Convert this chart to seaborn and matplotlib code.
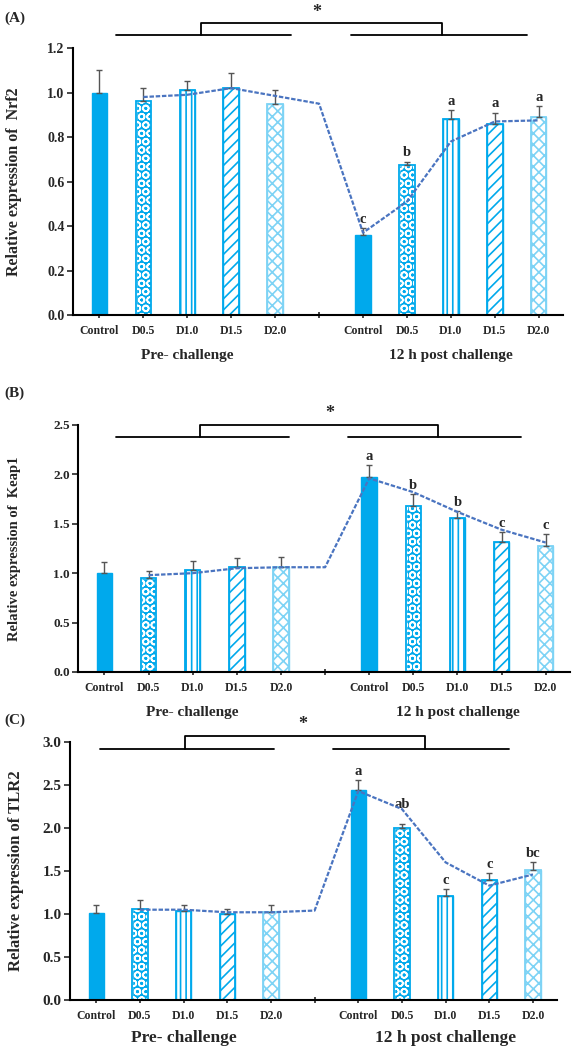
"""Relative expression of Nrf2, Keap1 and TLR2 before and after challenge."""

import matplotlib

matplotlib.use("Agg")
import matplotlib.pyplot as plt  # noqa: E402
import numpy as np  # noqa: E402
import pandas as pd  # noqa: E402
import seaborn as sns  # noqa: E402

# ---- data ----
tick_labels = ["Control", "D0.5", "D1.0", "D1.5", "D2.0", "",
               "Control", "D0.5", "D1.0", "D1.5", "D2.0"]
treatments = ["Control", "D0.5", "D1.0", "D1.5", "D2.0"]
group_labels = ["Pre- challenge", "12 h post challenge"]

nrf2_mean = [1.00, 0.96, 1.01, 1.02, 0.95, 0.36, 0.675, 0.88, 0.86, 0.89]
nrf2_err = [0.10, 0.06, 0.04, 0.07, 0.06, 0.03, 0.015, 0.04, 0.05, 0.05]
nrf2_trend = [0.98, 0.99, 1.02, 0.985, 0.95, 0.37, 0.51, 0.78, 0.87, 0.875]
nrf2_letters = ["", "", "", "", "", "c", "b", "a", "a", "a"]

keap1_mean = [1.00, 0.95, 1.03, 1.06, 1.06, 1.97, 1.68, 1.56, 1.32, 1.28]
keap1_err = [0.11, 0.07, 0.09, 0.09, 0.10, 0.12, 0.12, 0.07, 0.10, 0.12]
keap1_trend = [0.98, 1.00, 1.05, 1.06, 1.06, 1.96, 1.82, 1.62, 1.44, 1.31]
keap1_letters = ["", "", "", "", "", "a", "b", "b", "c", "c"]

tlr2_mean = [1.01, 1.06, 1.04, 1.00, 1.02, 2.44, 2.00, 1.21, 1.40, 1.51]
tlr2_err = [0.09, 0.10, 0.07, 0.06, 0.08, 0.12, 0.05, 0.08, 0.08, 0.09]
tlr2_trend = [1.05, 1.05, 1.02, 1.02, 1.04, 2.43, 2.22, 1.60, 1.33, 1.46]
tlr2_letters = ["", "", "", "", "", "a", "ab", "c", "c", "bc"]

BLUE = "#00a9ec"
LIGHT = "#7dd3f5"
LINE = "#4a74c0"
SERIF = ["Liberation Serif", "DejaVu Serif"]

sns.set_style("white")
plt.rcParams["font.family"] = SERIF
plt.rcParams["font.weight"] = "bold"
plt.rcParams["hatch.linewidth"] = 1.2

bar_pos = [0, 1, 2, 3, 4, 6, 7, 8, 9, 10]
trend_pos = [1, 2, 3, 4, 5, 6, 7, 8, 9, 10]

# (face, edge, hatch) for each treatment
styles = [
    (BLUE, BLUE, ""),
    (BLUE, "white", "OO"),
    ("white", BLUE, "|||"),
    ("white", BLUE, "///"),
    ("white", LIGHT, "xxx"),
]


def draw_panel(ax, mean, err, trend, letters, ylim, yticks, ylabel, ylab_size,
               label_x, bracket, group_y, group_size, tick_size):
    df = pd.DataFrame({"pos": bar_pos, "mean": mean})
    sns.barplot(data=df, x="pos", y="mean", native_scale=True, width=0.35,
                color=BLUE, errorbar=None, ax=ax)
    for i, patch in enumerate(ax.patches):
        face, edge, hatch = styles[i % 5]
        patch.set_facecolor(face)
        patch.set_edgecolor(edge)
        patch.set_hatch(hatch)
        patch.set_linewidth(1.0)
        if hatch:
            x0, w = patch.get_x(), patch.get_width()
            ax.bar(x0 + w / 2, patch.get_height(), width=w, fill=False,
                   edgecolor=LIGHT if i % 5 == 4 else BLUE, linewidth=1.3,
                   zorder=2.5)

    ax.errorbar(bar_pos, mean, yerr=[np.zeros(len(err)), err], fmt="none",
                ecolor="#555555", elinewidth=1.0, capsize=2.5, capthick=1.0,
                zorder=3)
    sns.lineplot(x=trend_pos, y=trend, color=LINE, lw=1.6,
                 linestyle=(0, (2, 0.8)), ax=ax, zorder=4)

    for x, m, e, lab in zip(bar_pos, mean, err, letters):
        if lab:
            extra = 0.12 if lab == "ab" else 0.0
            ax.annotate(lab, (x, m + e + extra), xytext=(0, 1.5),
                        textcoords="offset points", ha="center", va="bottom",
                        fontsize=10.5, fontweight="bold")

    ax.set_xlim(-0.6, 10.55)
    ax.set_ylim(*ylim)
    ax.set_yticks(yticks)
    ax.set_yticklabels([f"{t:.1f}" for t in yticks], fontsize=tick_size,
                       fontweight="bold")
    ax.set_xticks(range(11))
    ax.set_xticklabels(tick_labels, fontsize=8.5, fontweight="bold")
    ax.set_xlabel("")
    ax.set_ylabel(ylabel, fontsize=ylab_size, fontweight="bold")
    ax.yaxis.set_label_coords(label_x, 0.5)
    ax.tick_params(axis="y", direction="out", length=4, width=1.2, pad=2,
                   left=True)
    ax.tick_params(axis="x", direction="inout", length=5, width=1.2, pad=5,
                   bottom=True)
    for s in ("top", "right"):
        ax.spines[s].set_visible(False)
    for s in ("left", "bottom"):
        ax.spines[s].set_linewidth(1.5)
        ax.spines[s].set_color("black")

    # significance bracket between pre and post challenge groups
    lo, hi, star, l1, l2, r1, r2, c1, c2, sx = bracket
    kw = dict(color="black", lw=1.3, clip_on=False)
    ax.plot([l1, l2], [lo, lo], **kw)
    ax.plot([r1, r2], [lo, lo], **kw)
    ax.plot([c1, c1, c2, c2], [lo, hi, hi, lo], **kw)
    ax.text(sx, star, "*", ha="center", va="center", fontsize=13,
            fontweight="bold", clip_on=False)

    for gx, gl in zip([2, 8], group_labels):
        ax.text(gx, group_y, gl, transform=ax.get_xaxis_transform(),
                ha="center", va="center", fontsize=group_size,
                fontweight="bold")


fig = plt.figure(figsize=(5.72, 10.47), dpi=100)
ax_a = fig.add_axes([0.1276, 0.6991, 0.8566, 0.2550])
ax_b = fig.add_axes([0.1364, 0.3582, 0.8600, 0.2359])
ax_c = fig.add_axes([0.1224, 0.0449, 0.8514, 0.2464])

draw_panel(ax_a, nrf2_mean, nrf2_err, nrf2_trend, nrf2_letters,
           (0, 1.2), [0.0, 0.2, 0.4, 0.6, 0.8, 1.0, 1.2],
           "Relative expression of  Nrf2", 11.5, -0.105,
           (1.257, 1.314, 1.36, 0.37, 4.35, 5.73, 9.73, 2.32, 7.80, 4.94),
           -0.15, 11, 10)
draw_panel(ax_b, keap1_mean, keap1_err, keap1_trend, keap1_letters,
           (0, 2.5), [0.0, 0.5, 1.0, 1.5, 2.0, 2.5],
           "Relative expression of  Keap1", 10.5, -0.115,
           (2.38, 2.5, 2.62, 0.25, 4.18, 5.51, 9.44, 2.17, 7.56, 5.1),
           -0.166, 11, 9.5)
draw_panel(ax_c, tlr2_mean, tlr2_err, tlr2_trend, tlr2_letters,
           (0, 3.0), [0.0, 0.5, 1.0, 1.5, 2.0, 2.5, 3.0],
           "Relative expression of TLR2", 12, -0.095,
           (2.92, 3.07, 3.2, 0.08, 4.08, 5.43, 9.44, 2.03, 7.52, 4.73),
           -0.148, 12.5, 11)

for lab, y in zip(["(A)", "(B)", "(C)"], [18, 393, 720]):
    fig.text(0.008, 1 - y / 1047, lab, fontsize=11, fontweight="bold",
             va="center", ha="left")

fig.savefig("out.png", dpi=100)
